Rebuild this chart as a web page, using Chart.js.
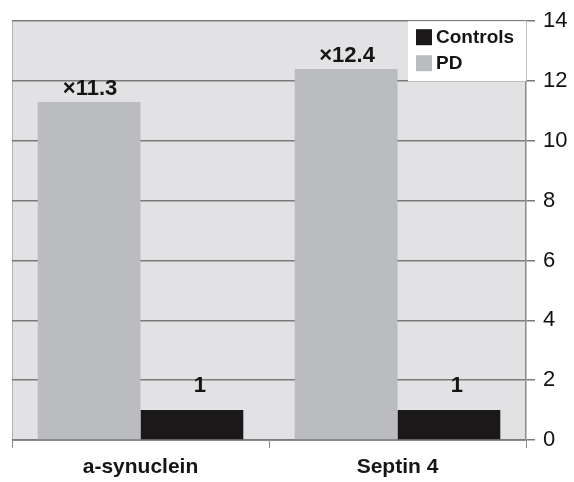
<!DOCTYPE html>
<html>
<head>
<meta charset="utf-8">
<script src="https://cdn.jsdelivr.net/npm/chart.js@4.4.0/dist/chart.umd.min.js"></script>
<style>
  html, body { margin: 0; padding: 0; background: #fff; }
  #wrap { width: 574px; height: 482px; }
</style>
</head>
<body>
<div id="wrap"><canvas id="chart"></canvas></div>
<script>
const categories = ['a-synuclein', 'Septin 4'];
const pdValues = [11.3, 12.4];
const controlValues = [1, 1];
const pdLabels = ['\u00d711.3', '\u00d712.4'];
const controlLabels = ['1', '1'];
const yTicks = [0, 2, 4, 6, 8, 10, 12, 14];

const FONT = '"Liberation Sans", Arial, sans-serif';

// grey plot background
const plotBg = {
  id: 'plotBg',
  beforeDraw(chart) {
    const { ctx, chartArea: a } = chart;
    ctx.save();
    ctx.fillStyle = '#e2e2e4';
    ctx.fillRect(a.left, a.top, a.right - a.left, a.bottom - a.top);
    ctx.strokeStyle = '#b4b4b6';
    ctx.lineWidth = 1;
    ctx.beginPath();
    ctx.moveTo(a.left + 0.5, a.bottom);
    ctx.lineTo(a.left + 0.5, a.top);
    ctx.stroke();
    ctx.restore();
  }
};

// value labels above bars
const barLabels = {
  id: 'barLabels',
  afterDatasetsDraw(chart) {
    const { ctx } = chart;
    ctx.save();
    ctx.font = 'bold 22px ' + FONT;
    ctx.fillStyle = '#151515';
    ctx.textAlign = 'center';
    ctx.textBaseline = 'alphabetic';
    chart.data.datasets.forEach((ds, i) => {
      chart.getDatasetMeta(i).data.forEach((bar, j) => {
        ctx.fillText(ds.valueLabels[j], bar.x + ds.labelDx, bar.y - ds.labelGap);
      });
    });
    ctx.restore();
  }
};

// legend box in the top right corner of the plot
const boxLegend = {
  id: 'boxLegend',
  afterDraw(chart) {
    const { ctx, chartArea: a } = chart;
    const items = chart.data.datasets.slice().reverse();
    const w = 118, h = 60;
    const x = a.right - w, y = a.top;
    ctx.save();
    ctx.fillStyle = '#ffffff';
    ctx.fillRect(x, y, w, h);
    ctx.font = 'bold 19px ' + FONT;
    ctx.textBaseline = 'middle';
    items.forEach((ds, i) => {
      const cy = y + 16 + i * 26;
      ctx.fillStyle = ds.backgroundColor;
      ctx.fillRect(x + 8, cy - 8, 16, 16);
      ctx.fillStyle = '#151515';
      ctx.fillText(ds.label, x + 28, cy + 1);
    });
    ctx.restore();
  }
};

new Chart(document.getElementById('chart'), {
  type: 'bar',
  data: {
    labels: categories,
    datasets: [
      { label: 'PD', data: pdValues, valueLabels: pdLabels, labelDx: 1, labelGap: 7,
        backgroundColor: '#bbbcbf', categoryPercentage: 0.8, barPercentage: 1.0 },
      { label: 'Controls', data: controlValues, valueLabels: controlLabels, labelDx: 8, labelGap: 18,
        backgroundColor: '#1b1819', categoryPercentage: 0.8, barPercentage: 1.0 }
    ]
  },
  options: {
    responsive: true,
    maintainAspectRatio: false,
    animation: false,
    layout: { padding: { left: 12, top: 20, right: 0, bottom: 0 } },
    plugins: { legend: { display: false }, tooltip: { enabled: false } },
    scales: {
      x: {
        grid: { offset: true, drawOnChartArea: false, drawTicks: true, tickLength: 8, color: '#8a8a8a' },
        border: { display: true, color: '#8a8a8a', width: 1 },
        ticks: { font: { family: FONT, size: 21, weight: 'bold' }, color: '#151515', padding: 7 },
        afterFit(s) { s.height = 42; }
      },
      y: {
        position: 'right',
        min: 0, max: 14,
        afterBuildTicks(s) { s.ticks = yTicks.map(v => ({ value: v })); },
        grid: { color: '#7a7a7a', lineWidth: 1.5, tickLength: 9 },
        border: { display: true, color: '#8a8a8a', width: 1.5 },
        ticks: { font: { family: FONT, size: 22 }, color: '#111', padding: 8 },
        afterFit(s) { s.width = 48; }
      }
    }
  },
  plugins: [plotBg, barLabels, boxLegend]
});
</script>
</body>
</html>
